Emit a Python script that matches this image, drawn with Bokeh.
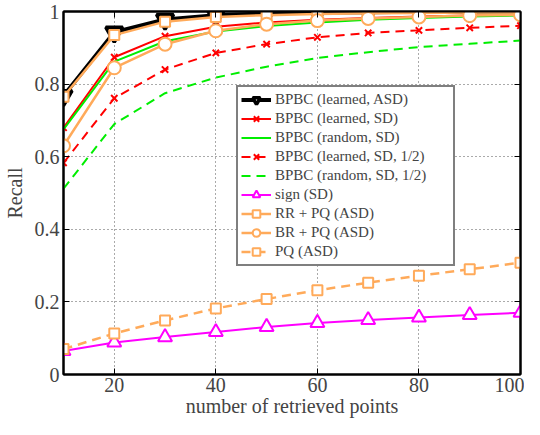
from bokeh.plotting import figure
from bokeh.models import Range1d, FixedTicker, LinearAxis, CustomJSTickFormatter
from bokeh.embed import file_html
from bokeh.resources import INLINE

x = [10, 20, 30, 40, 50, 60, 70, 80, 90, 100]
bpbc_learned_asd = [0.768, 0.943, 0.978, 0.990, 0.995, 0.997, 0.998, 0.999, 0.999, 1.0]
bpbc_learned_sd = [0.680, 0.874, 0.932, 0.958, 0.970, 0.977, 0.982, 0.986, 0.989, 0.991]
bpbc_random_sd = [0.675, 0.862, 0.918, 0.945, 0.960, 0.970, 0.977, 0.982, 0.986, 0.989]
bpbc_learned_sd_half = [0.583, 0.761, 0.840, 0.886, 0.910, 0.929, 0.941, 0.948, 0.955, 0.961]
bpbc_random_sd_half = [0.512, 0.690, 0.775, 0.818, 0.848, 0.872, 0.888, 0.902, 0.911, 0.920]
sign_sd = [0.065, 0.088, 0.103, 0.117, 0.131, 0.142, 0.150, 0.157, 0.164, 0.170]
rr_pq_asd = [0.765, 0.935, 0.972, 0.985, 0.990, 0.993, 0.995, 0.996, 0.997, 0.997]
br_pq_asd = [0.630, 0.845, 0.910, 0.947, 0.965, 0.975, 0.981, 0.985, 0.989, 0.991]
pq_asd = [0.070, 0.113, 0.149, 0.182, 0.208, 0.232, 0.253, 0.272, 0.290, 0.308]

y_ticks = [0, 0.2, 0.4, 0.6, 0.8, 1]
y_tick_labels = ["0", "0.2", "0.4", "0.6", "0.8", "1"]
x_ticks = [20, 40, 60, 80, 100]

FONT = "Liberation Serif"
ORANGE = "#ffaa5a"

p = figure(width=524, height=419, output_backend="svg", toolbar_location=None,
           x_range=Range1d(10, 100), y_range=Range1d(0, 1),
           min_border_left=56, min_border_right=4, min_border_top=11, min_border_bottom=36)
p.background_fill_color = "white"
p.outline_line_color = "black"
p.outline_line_width = 2

for ax in (p.xaxis[0], p.yaxis[0]):
    ax.axis_line_width = 2
    ax.major_tick_in = 6
    ax.major_tick_out = 0
    ax.minor_tick_line_color = None
    ax.major_label_text_font = FONT
    ax.major_label_text_font_size = "20px"
    ax.axis_label_text_font = FONT
    ax.axis_label_text_font_size = "20px"
    ax.axis_label_text_font_style = "normal"

p.xaxis.major_label_standoff = 3
p.yaxis.major_label_standoff = 4
p.xaxis.ticker = FixedTicker(ticks=x_ticks)
p.yaxis.ticker = FixedTicker(ticks=y_ticks)
p.yaxis.major_label_overrides = {t: l for t, l in zip(y_ticks, y_tick_labels)}
p.xaxis.axis_label = "number of retrieved points"
p.yaxis.axis_label = "Recall"
p.xaxis.axis_label_standoff = 0
p.yaxis.axis_label_standoff = 6

for side, tk in (("right", y_ticks), ("above", x_ticks)):
    a = LinearAxis(ticker=FixedTicker(ticks=tk), formatter=CustomJSTickFormatter(code="return ''"))
    a.major_tick_in = 6
    a.major_tick_out = 0
    a.minor_tick_line_color = None
    a.axis_line_width = 2
    a.major_label_standoff = 0
    p.add_layout(a, side)

p.xgrid.grid_line_color = "#555555"
p.xgrid.grid_line_dash = "1 3"
p.ygrid.grid_line_color = "#555555"
p.ygrid.grid_line_dash = "1 3"

def series(ys, label, color, width, dash, marker, size, mlw, fill="white"):
    p.line(x, ys, line_color=color, line_width=width, line_dash=dash, legend_label=label)
    if marker:
        p.scatter(x, ys, marker=marker, size=size, line_color=color, line_width=mlw,
                  fill_color=fill, legend_label=label)

series(bpbc_learned_asd, "BPBC (learned, ASD)", "black", 4, "solid", "inverted_triangle", 17, 3.5)
series(bpbc_learned_sd, "BPBC (learned, SD)", "#ff0000", 2, "solid", "x", 9, 2)
series(bpbc_random_sd, "BPBC (random, SD)", "#00ee00", 2, "solid", None, 0, 0)
series(bpbc_learned_sd_half, "BPBC (learned, SD, 1/2)", "#ff0000", 2, "9 6", "x", 9, 2)
series(bpbc_random_sd_half, "BPBC (random, SD, 1/2)", "#00ee00", 2, "9 6", None, 0, 0)
series(sign_sd, "sign (SD)", "#ff00ff", 2, "solid", "triangle", 14, 2)
series(rr_pq_asd, "RR + PQ (ASD)", ORANGE, 2.5, "solid", "square", 10, 2)
series(br_pq_asd, "BR + PQ (ASD)", ORANGE, 2.5, "solid", "circle", 13, 2)
series(pq_asd, "PQ (ASD)", ORANGE, 2.5, "9 6", "square", 10, 2)

leg = p.legend[0]
leg.location = (173, 108)
leg.label_text_font = FONT
leg.label_text_font_size = "15px"
leg.border_line_color = "black"
leg.border_line_width = 2
leg.background_fill_alpha = 1
leg.spacing = 0
leg.padding = 3
leg.margin = 0
leg.glyph_width = 30
leg.glyph_height = 19
leg.label_height = 19
leg.label_width = 175
leg.label_standoff = 4

open("out.html", "w").write(file_html(p, INLINE))
